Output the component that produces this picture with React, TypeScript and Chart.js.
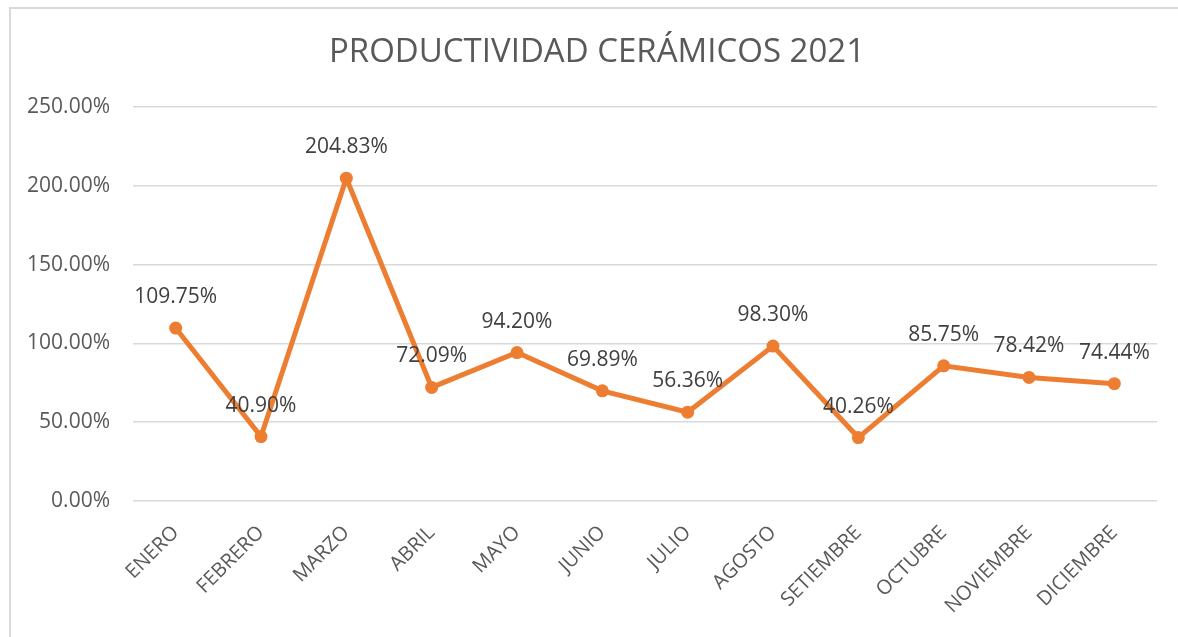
import React, { useEffect, useRef } from "react";
import { Chart, registerables } from "chart.js";

Chart.register(...registerables);

const categories = [
  "ENERO",
  "FEBRERO",
  "MARZO",
  "ABRIL",
  "MAYO",
  "JUNIO",
  "JULIO",
  "AGOSTO",
  "SETIEMBRE",
  "OCTUBRE",
  "NOVIEMBRE",
  "DICIEMBRE",
];
const productividad = [109.75, 40.9, 204.83, 72.09, 94.2, 69.89, 56.36, 98.3, 40.26, 85.75, 78.42, 74.44];
const yMin = 0;
const yMax = 250;
const yStep = 50;
const chartTitle = "PRODUCTIVIDAD CERÁMICOS 2021";

const FONT = "'Open Sans', 'Liberation Sans', sans-serif";

const dataLabelPlugin = {
  id: "dataLabels",
  afterDatasetsDraw(chart: any) {
    const ctx = chart.ctx;
    const meta = chart.getDatasetMeta(0);
    ctx.save();
    ctx.font = `21px ${FONT}`;
    ctx.fillStyle = "#404040";
    ctx.textAlign = "center";
    ctx.textBaseline = "middle";
    meta.data.forEach((pt: any, i: number) => {
      ctx.fillText(productividad[i].toFixed(2) + "%", pt.x, pt.y - 31);
    });
    ctx.restore();
  },
};

const titlePlugin = {
  id: "customTitle",
  afterDraw(chart: any) {
    const ctx = chart.ctx;
    ctx.save();
    ctx.font = `33px ${FONT}`;
    ctx.fillStyle = "#595959";
    ctx.textAlign = "center";
    ctx.textBaseline = "middle";
    ctx.fillText(chartTitle, 597, 53);
    ctx.restore();
  },
};

export default function App() {
  const canvasRef = useRef<HTMLCanvasElement | null>(null);

  useEffect(() => {
    if (!canvasRef.current) return;
    const chart = new Chart(canvasRef.current, {
      type: "line",
      data: {
        labels: categories,
        datasets: [
          {
            label: "Productividad",
            data: productividad,
            borderColor: "#ED7D31",
            backgroundColor: "#ED7D31",
            borderWidth: 5,
            pointRadius: 6.5,
            pointBackgroundColor: "#ED7D31",
            pointBorderColor: "#ED7D31",
            pointBorderWidth: 0,
            tension: 0,
          },
        ],
      },
      options: {
        responsive: false,
        animation: false,
        maintainAspectRatio: false,
        layout: { padding: { left: 0, right: 21, top: 107, bottom: 0 } },
        plugins: {
          legend: { display: false },
          tooltip: { enabled: false },
          title: { display: false },
        },
        scales: {
          x: {
            offset: true,
            grid: { display: false, drawTicks: false },
            border: { display: false },
            ticks: {
              autoSkip: false,
              minRotation: 45,
              maxRotation: 45,
              padding: 20,
              color: "#595959",
              font: { family: FONT, size: 20 },
            },
            afterFit(scale: any) {
              scale.height = 136;
            },
          },
          y: {
            min: yMin,
            max: yMax,
            grid: { color: "#d9d9d9", lineWidth: 1.5, drawTicks: false },
            border: { display: false },
            ticks: {
              stepSize: yStep,
              padding: 23,
              color: "#595959",
              font: { family: FONT, size: 21 },
              callback: (v: any) => Number(v).toFixed(2) + "%",
            },
            afterFit(scale: any) {
              scale.width = 133;
            },
          },
        },
      },
      plugins: [dataLabelPlugin, titlePlugin],
    });
    return () => chart.destroy();
  }, []);

  return (
    <div
      style={{
        position: "fixed",
        left: 0,
        top: 0,
        width: 1178,
        height: 637,
        overflow: "hidden",
        background: "#ffffff",
      }}
    >
      <div
        style={{
          position: "absolute",
          left: 9,
          top: 7,
          width: 1250,
          height: 700,
          border: "2px solid #d9d9d9",
          boxSizing: "border-box",
        }}
      />
      <canvas
        ref={canvasRef}
        width={1178}
        height={637}
        style={{ position: "absolute", left: 0, top: 0 }}
      />
    </div>
  );
}
